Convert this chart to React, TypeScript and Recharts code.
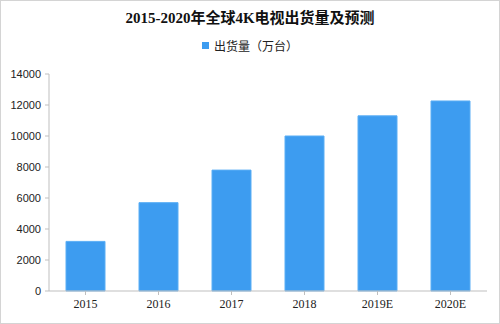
import { BarChart, Bar, XAxis, YAxis } from "recharts";

const YEARS = ["2015", "2016", "2017", "2018", "2019E", "2020E"];
const SHIPMENTS = [3200, 5700, 7800, 10000, 11300, 12260];
const Y_TICKS = [0, 2000, 4000, 6000, 8000, 10000, 12000, 14000];
const SERIES_NAME = "出货量（万台）";
const TITLE = "2015-2020年全球4K电视出货量及预测";

const BLUE = "#3d9cf0";
const AXIS = "#bfbfbf";

const data = YEARS.map((year, i) => ({ year, value: SHIPMENTS[i] }));

export default function App() {
  return (
    <div style={{ position: "absolute", left: 0, top: 0, width: 500, height: 324, background: "#fff", boxSizing: "border-box", border: "1px solid #d4d4d4" }}>
      <div style={{ position: "absolute", top: 5, left: 0, width: "100%", textAlign: "center", fontFamily: "Liberation Serif, Noto Sans CJK SC, serif", fontWeight: "bold", fontSize: 15, color: "#111" }}>
        {TITLE}
      </div>
      {/* legend */}
      <div style={{ position: "absolute", top: 36, left: 0, width: "100%", display: "flex", justifyContent: "center", alignItems: "center", gap: 5, fontFamily: "Noto Sans CJK SC, sans-serif", fontSize: 12, color: "#222" }}>
        <span style={{ width: 7, height: 7, background: BLUE, display: "inline-block" }} />
        <span>{SERIES_NAME}</span>
      </div>
      <BarChart width={498} height={322} data={data} margin={{ top: 73, right: 12, bottom: 2, left: 0 }} barSize={39}>
        <XAxis dataKey="year" height={30} stroke={AXIS} tickLine={{ stroke: AXIS }} tickSize={4} interval={0}
          tick={{ fill: "#222", fontSize: 12, fontFamily: "Liberation Serif, serif" }} tickMargin={4} />
        <YAxis width={48} domain={[0, 14000]} ticks={Y_TICKS} stroke={AXIS} tickLine={{ stroke: AXIS }} tickSize={4}
          tick={{ fill: "#222", fontSize: 11, fontFamily: "Liberation Sans, Arial, sans-serif" }} tickMargin={4} />
        <Bar dataKey="value" name={SERIES_NAME} fill={BLUE} stroke="#5aaef5" strokeWidth={1} isAnimationActive={false} />
      </BarChart>
    </div>
  );
}
